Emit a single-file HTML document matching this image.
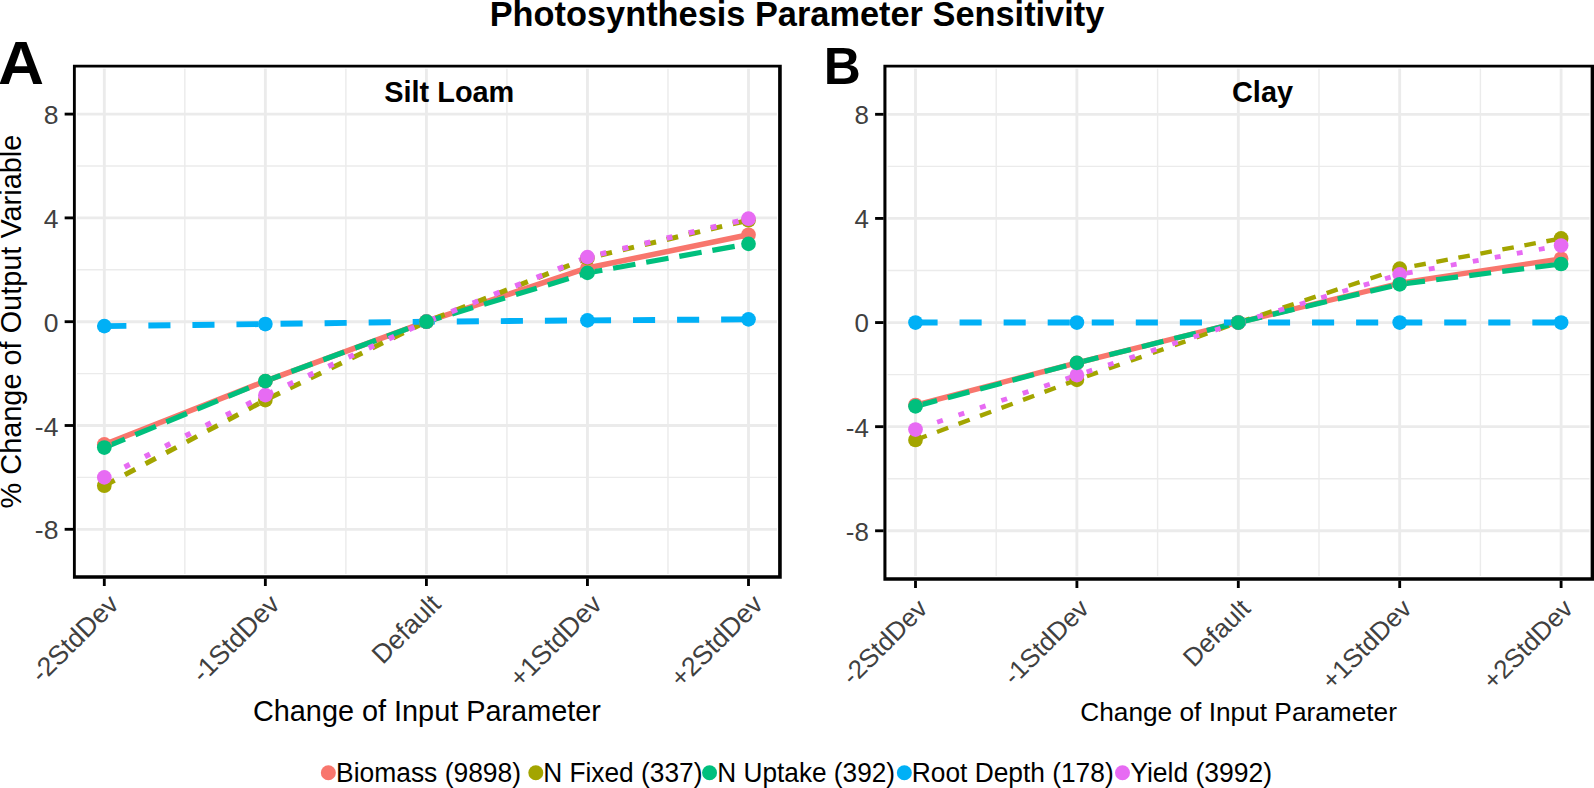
<!DOCTYPE html>
<html><head><meta charset="utf-8"><title>Photosynthesis Parameter Sensitivity</title>
<style>html,body{margin:0;padding:0;background:#fff;}svg{display:block;}text{font-family:"Liberation Sans", Arial, Helvetica, sans-serif;}</style></head><body>
<svg width="1594" height="788" viewBox="0 0 1594 788">
<rect x="0" y="0" width="1594" height="788" fill="#ffffff"/>
<g>
<rect x="74.50" y="66.00" width="705.50" height="511.00" fill="#fff"/>
<line x1="77.00" x2="776.93" y1="477.40" y2="477.40" stroke="#EBEBEB" stroke-width="1.4"/>
<line x1="77.00" x2="776.93" y1="373.60" y2="373.60" stroke="#EBEBEB" stroke-width="1.4"/>
<line x1="77.00" x2="776.93" y1="269.80" y2="269.80" stroke="#EBEBEB" stroke-width="1.4"/>
<line x1="77.00" x2="776.93" y1="166.00" y2="166.00" stroke="#EBEBEB" stroke-width="1.4"/>
<line x1="184.83" x2="184.83" y1="68.70" y2="574.00" stroke="#EBEBEB" stroke-width="1.4"/>
<line x1="345.88" x2="345.88" y1="68.70" y2="574.00" stroke="#EBEBEB" stroke-width="1.4"/>
<line x1="506.93" x2="506.93" y1="68.70" y2="574.00" stroke="#EBEBEB" stroke-width="1.4"/>
<line x1="667.98" x2="667.98" y1="68.70" y2="574.00" stroke="#EBEBEB" stroke-width="1.4"/>
<line x1="77.00" x2="776.93" y1="529.30" y2="529.30" stroke="#EBEBEB" stroke-width="2.85"/>
<line x1="77.00" x2="776.93" y1="425.50" y2="425.50" stroke="#EBEBEB" stroke-width="2.85"/>
<line x1="77.00" x2="776.93" y1="321.70" y2="321.70" stroke="#EBEBEB" stroke-width="2.85"/>
<line x1="77.00" x2="776.93" y1="217.90" y2="217.90" stroke="#EBEBEB" stroke-width="2.85"/>
<line x1="77.00" x2="776.93" y1="114.10" y2="114.10" stroke="#EBEBEB" stroke-width="2.85"/>
<line x1="104.30" x2="104.30" y1="68.70" y2="574.00" stroke="#EBEBEB" stroke-width="2.85"/>
<line x1="265.35" x2="265.35" y1="68.70" y2="574.00" stroke="#EBEBEB" stroke-width="2.85"/>
<line x1="426.40" x2="426.40" y1="68.70" y2="574.00" stroke="#EBEBEB" stroke-width="2.85"/>
<line x1="587.45" x2="587.45" y1="68.70" y2="574.00" stroke="#EBEBEB" stroke-width="2.85"/>
<line x1="748.50" x2="748.50" y1="68.70" y2="574.00" stroke="#EBEBEB" stroke-width="2.85"/>
<polyline points="104.30,444.44 265.35,381.13 426.40,321.70 587.45,267.98 748.50,234.77" fill="none" stroke="#F8766D" stroke-width="5.50" stroke-linejoin="round"/>
<g stroke="#A3A500" stroke-width="5.00" fill="none">
<line x1="104.30" y1="485.70" x2="265.35" y2="400.07" stroke-dasharray="11.67 11.67" stroke-dashoffset="0.00"/>
<line x1="265.35" y1="400.07" x2="426.40" y2="321.70" stroke-dasharray="11.68 11.23" stroke-dashoffset="18.41"/>
<line x1="426.40" y1="321.70" x2="587.45" y2="258.12" stroke-dasharray="11.40 10.97" stroke-dashoffset="14.19"/>
<line x1="587.45" y1="258.12" x2="748.50" y2="220.24" stroke-dasharray="11.71 10.93" stroke-dashoffset="9.17"/>
</g>
<g stroke="#00BF7D" stroke-width="5.20" fill="none">
<line x1="104.30" y1="447.56" x2="265.35" y2="381.13" stroke-dasharray="22.28 11.25" stroke-dashoffset="0.00"/>
<line x1="265.35" y1="381.13" x2="426.40" y2="321.70" stroke-dasharray="22.33 11.67" stroke-dashoffset="6.24"/>
<line x1="426.40" y1="321.70" x2="587.45" y2="272.91" stroke-dasharray="21.84 11.49" stroke-dashoffset="6.48"/>
<line x1="587.45" y1="272.91" x2="748.50" y2="243.85" stroke-dasharray="22.66 10.97" stroke-dashoffset="7.57"/>
</g>
<g stroke="#00B0F6" stroke-width="5.90" fill="none">
<line x1="104.30" y1="326.11" x2="265.35" y2="324.04" stroke-dasharray="22.10 21.96" stroke-dashoffset="0.00"/>
<line x1="265.35" y1="324.04" x2="426.40" y2="321.70" stroke-dasharray="22.10 21.96" stroke-dashoffset="28.87"/>
<line x1="426.40" y1="321.70" x2="587.45" y2="320.40" stroke-dasharray="22.10 21.96" stroke-dashoffset="13.68"/>
<line x1="587.45" y1="320.40" x2="748.50" y2="319.36" stroke-dasharray="22.10 21.96" stroke-dashoffset="42.55"/>
</g>
<g stroke="#E76BF3" stroke-width="5.30" fill="none">
<line x1="104.30" y1="477.40" x2="265.35" y2="395.14" stroke-dasharray="5.73 17.06" stroke-dashoffset="0.00"/>
<line x1="265.35" y1="395.14" x2="426.40" y2="321.70" stroke-dasharray="5.83 16.38" stroke-dashoffset="19.62"/>
<line x1="426.40" y1="321.70" x2="587.45" y2="257.08" stroke-dasharray="6.03 16.92" stroke-dashoffset="18.96"/>
<line x1="587.45" y1="257.08" x2="748.50" y2="218.68" stroke-dasharray="5.86 16.80" stroke-dashoffset="9.18"/>
</g>
<circle cx="104.30" cy="326.11" r="7.35" fill="#00B0F6"/>
<circle cx="265.35" cy="324.04" r="7.35" fill="#00B0F6"/>
<circle cx="426.40" cy="321.70" r="7.35" fill="#00B0F6"/>
<circle cx="587.45" cy="320.40" r="7.35" fill="#00B0F6"/>
<circle cx="748.50" cy="319.36" r="7.35" fill="#00B0F6"/>
<circle cx="104.30" cy="444.44" r="7.35" fill="#F8766D"/>
<circle cx="265.35" cy="381.13" r="7.35" fill="#F8766D"/>
<circle cx="426.40" cy="321.70" r="7.35" fill="#F8766D"/>
<circle cx="587.45" cy="267.98" r="7.35" fill="#F8766D"/>
<circle cx="748.50" cy="234.77" r="7.35" fill="#F8766D"/>
<circle cx="104.30" cy="485.70" r="7.35" fill="#A3A500"/>
<circle cx="265.35" cy="400.07" r="7.35" fill="#A3A500"/>
<circle cx="426.40" cy="321.70" r="7.35" fill="#A3A500"/>
<circle cx="587.45" cy="258.12" r="7.35" fill="#A3A500"/>
<circle cx="748.50" cy="220.24" r="7.35" fill="#A3A500"/>
<circle cx="104.30" cy="477.40" r="7.35" fill="#E76BF3"/>
<circle cx="265.35" cy="395.14" r="7.35" fill="#E76BF3"/>
<circle cx="426.40" cy="321.70" r="7.35" fill="#E76BF3"/>
<circle cx="587.45" cy="257.08" r="7.35" fill="#E76BF3"/>
<circle cx="748.50" cy="218.68" r="7.35" fill="#E76BF3"/>
<circle cx="104.30" cy="447.56" r="7.35" fill="#00BF7D"/>
<circle cx="265.35" cy="381.13" r="7.35" fill="#00BF7D"/>
<circle cx="426.40" cy="321.70" r="7.35" fill="#00BF7D"/>
<circle cx="587.45" cy="272.91" r="7.35" fill="#00BF7D"/>
<circle cx="748.50" cy="243.85" r="7.35" fill="#00BF7D"/>
<path d="M72.94 64.65H781.75V578.68H72.94ZM75.80 67.50H778.13V575.20H75.80Z" fill="#000" fill-rule="evenodd"/>
<line x1="64.64" x2="73.14" y1="529.30" y2="529.30" stroke="#000" stroke-width="2.85"/>
<text x="58.44" y="539.40" font-size="26.50" fill="#404040" text-anchor="end">-8</text>
<line x1="64.64" x2="73.14" y1="425.50" y2="425.50" stroke="#000" stroke-width="2.85"/>
<text x="58.44" y="435.60" font-size="26.50" fill="#404040" text-anchor="end">-4</text>
<line x1="64.64" x2="73.14" y1="321.70" y2="321.70" stroke="#000" stroke-width="2.85"/>
<text x="58.44" y="331.80" font-size="26.50" fill="#404040" text-anchor="end">0</text>
<line x1="64.64" x2="73.14" y1="217.90" y2="217.90" stroke="#000" stroke-width="2.85"/>
<text x="58.44" y="228.00" font-size="26.50" fill="#404040" text-anchor="end">4</text>
<line x1="64.64" x2="73.14" y1="114.10" y2="114.10" stroke="#000" stroke-width="2.85"/>
<text x="58.44" y="124.20" font-size="26.50" fill="#404040" text-anchor="end">8</text>
<line x1="104.30" x2="104.30" y1="578.48" y2="586.00" stroke="#000" stroke-width="2.85"/>
<text transform="translate(106.70,592.30) rotate(-45)" font-size="26.60" fill="#404040" text-anchor="end" x="0" y="19">-2StdDev</text>
<line x1="265.35" x2="265.35" y1="578.48" y2="586.00" stroke="#000" stroke-width="2.85"/>
<text transform="translate(267.75,592.30) rotate(-45)" font-size="26.60" fill="#404040" text-anchor="end" x="0" y="19">-1StdDev</text>
<line x1="426.40" x2="426.40" y1="578.48" y2="586.00" stroke="#000" stroke-width="2.85"/>
<text transform="translate(428.80,592.30) rotate(-45)" font-size="26.60" fill="#404040" text-anchor="end" x="0" y="19">Default</text>
<line x1="587.45" x2="587.45" y1="578.48" y2="586.00" stroke="#000" stroke-width="2.85"/>
<text transform="translate(589.85,592.30) rotate(-45)" font-size="26.60" fill="#404040" text-anchor="end" x="0" y="19">+1StdDev</text>
<line x1="748.50" x2="748.50" y1="578.48" y2="586.00" stroke="#000" stroke-width="2.85"/>
<text transform="translate(750.90,592.30) rotate(-45)" font-size="26.60" fill="#404040" text-anchor="end" x="0" y="19">+2StdDev</text>
<text x="449.30" y="101.60" font-size="28.9" font-weight="bold" fill="#000" text-anchor="middle">Silt Loam</text>
</g>
<g>
<rect x="885.00" y="66.00" width="707.30" height="512.50" fill="#fff"/>
<line x1="887.65" x2="1589.45" y1="478.73" y2="478.73" stroke="#EBEBEB" stroke-width="1.4"/>
<line x1="887.65" x2="1589.45" y1="374.61" y2="374.61" stroke="#EBEBEB" stroke-width="1.4"/>
<line x1="887.65" x2="1589.45" y1="270.49" y2="270.49" stroke="#EBEBEB" stroke-width="1.4"/>
<line x1="887.65" x2="1589.45" y1="166.37" y2="166.37" stroke="#EBEBEB" stroke-width="1.4"/>
<line x1="996.20" x2="996.20" y1="68.70" y2="576.10" stroke="#EBEBEB" stroke-width="1.4"/>
<line x1="1157.60" x2="1157.60" y1="68.70" y2="576.10" stroke="#EBEBEB" stroke-width="1.4"/>
<line x1="1319.00" x2="1319.00" y1="68.70" y2="576.10" stroke="#EBEBEB" stroke-width="1.4"/>
<line x1="1480.40" x2="1480.40" y1="68.70" y2="576.10" stroke="#EBEBEB" stroke-width="1.4"/>
<line x1="887.65" x2="1589.45" y1="530.79" y2="530.79" stroke="#EBEBEB" stroke-width="2.85"/>
<line x1="887.65" x2="1589.45" y1="426.67" y2="426.67" stroke="#EBEBEB" stroke-width="2.85"/>
<line x1="887.65" x2="1589.45" y1="322.55" y2="322.55" stroke="#EBEBEB" stroke-width="2.85"/>
<line x1="887.65" x2="1589.45" y1="218.43" y2="218.43" stroke="#EBEBEB" stroke-width="2.85"/>
<line x1="887.65" x2="1589.45" y1="114.31" y2="114.31" stroke="#EBEBEB" stroke-width="2.85"/>
<line x1="915.50" x2="915.50" y1="68.70" y2="576.10" stroke="#EBEBEB" stroke-width="2.85"/>
<line x1="1076.90" x2="1076.90" y1="68.70" y2="576.10" stroke="#EBEBEB" stroke-width="2.85"/>
<line x1="1238.30" x2="1238.30" y1="68.70" y2="576.10" stroke="#EBEBEB" stroke-width="2.85"/>
<line x1="1399.70" x2="1399.70" y1="68.70" y2="576.10" stroke="#EBEBEB" stroke-width="2.85"/>
<line x1="1561.10" x2="1561.10" y1="68.70" y2="576.10" stroke="#EBEBEB" stroke-width="2.85"/>
<polyline points="915.50,405.07 1076.90,362.90 1238.30,322.55 1399.70,283.24 1561.10,258.78" fill="none" stroke="#F8766D" stroke-width="5.30" stroke-linejoin="round"/>
<g stroke="#A3A500" stroke-width="4.40" fill="none">
<line x1="915.50" y1="439.95" x2="1076.90" y2="379.82" stroke-dasharray="11.95 10.99" stroke-dashoffset="0.00"/>
<line x1="1076.90" y1="379.82" x2="1238.30" y2="322.55" stroke-dasharray="11.57 11.67" stroke-dashoffset="12.63"/>
<line x1="1238.30" y1="322.55" x2="1399.70" y2="268.67" stroke-dasharray="11.60 11.54" stroke-dashoffset="22.56"/>
<line x1="1399.70" y1="268.67" x2="1561.10" y2="238.47" stroke-dasharray="11.60 10.78" stroke-dashoffset="7.43"/>
</g>
<g stroke="#00BF7D" stroke-width="5.20" fill="none">
<line x1="915.50" y1="406.37" x2="1076.90" y2="362.90" stroke-dasharray="22.27 11.18" stroke-dashoffset="0.00"/>
<line x1="1076.90" y1="362.90" x2="1238.30" y2="322.55" stroke-dasharray="22.26 11.24" stroke-dashoffset="0.10"/>
<line x1="1238.30" y1="322.55" x2="1399.70" y2="284.29" stroke-dasharray="22.20 11.20" stroke-dashoffset="31.45"/>
<line x1="1399.70" y1="284.29" x2="1561.10" y2="263.98" stroke-dasharray="22.07 11.24" stroke-dashoffset="29.93"/>
</g>
<g stroke="#00B0F6" stroke-width="5.90" fill="none">
<line x1="915.50" y1="322.55" x2="1076.90" y2="322.55" stroke-dasharray="22.10 21.96" stroke-dashoffset="0.00"/>
<line x1="1076.90" y1="322.55" x2="1238.30" y2="322.55" stroke-dasharray="22.10 21.96" stroke-dashoffset="29.22"/>
<line x1="1238.30" y1="322.55" x2="1399.70" y2="322.55" stroke-dasharray="22.10 21.96" stroke-dashoffset="14.38"/>
<line x1="1399.70" y1="322.55" x2="1561.10" y2="322.55" stroke-dasharray="22.10 21.96" stroke-dashoffset="43.60"/>
</g>
<g stroke="#E76BF3" stroke-width="4.80" fill="none">
<line x1="915.50" y1="429.53" x2="1076.90" y2="375.13" stroke-dasharray="6.02 16.57" stroke-dashoffset="22.37"/>
<line x1="1076.90" y1="375.13" x2="1238.30" y2="322.55" stroke-dasharray="5.78 16.72" stroke-dashoffset="12.20"/>
<line x1="1238.30" y1="322.55" x2="1399.70" y2="274.39" stroke-dasharray="5.84 16.38" stroke-dashoffset="2.40"/>
<line x1="1399.70" y1="274.39" x2="1561.10" y2="245.50" stroke-dasharray="5.89 16.46" stroke-dashoffset="15.14"/>
</g>
<circle cx="915.50" cy="322.55" r="7.35" fill="#00B0F6"/>
<circle cx="1076.90" cy="322.55" r="7.35" fill="#00B0F6"/>
<circle cx="1238.30" cy="322.55" r="7.35" fill="#00B0F6"/>
<circle cx="1399.70" cy="322.55" r="7.35" fill="#00B0F6"/>
<circle cx="1561.10" cy="322.55" r="7.35" fill="#00B0F6"/>
<circle cx="915.50" cy="405.07" r="7.35" fill="#F8766D"/>
<circle cx="1076.90" cy="362.90" r="7.35" fill="#F8766D"/>
<circle cx="1238.30" cy="322.55" r="7.35" fill="#F8766D"/>
<circle cx="1399.70" cy="283.24" r="7.35" fill="#F8766D"/>
<circle cx="1561.10" cy="258.78" r="7.35" fill="#F8766D"/>
<circle cx="915.50" cy="439.95" r="7.35" fill="#A3A500"/>
<circle cx="1076.90" cy="379.82" r="7.35" fill="#A3A500"/>
<circle cx="1238.30" cy="322.55" r="7.35" fill="#A3A500"/>
<circle cx="1399.70" cy="268.67" r="7.35" fill="#A3A500"/>
<circle cx="1561.10" cy="238.47" r="7.35" fill="#A3A500"/>
<circle cx="915.50" cy="429.53" r="7.35" fill="#E76BF3"/>
<circle cx="1076.90" cy="375.13" r="7.35" fill="#E76BF3"/>
<circle cx="1238.30" cy="322.55" r="7.35" fill="#E76BF3"/>
<circle cx="1399.70" cy="274.39" r="7.35" fill="#E76BF3"/>
<circle cx="1561.10" cy="245.50" r="7.35" fill="#E76BF3"/>
<circle cx="915.50" cy="406.37" r="7.35" fill="#00BF7D"/>
<circle cx="1076.90" cy="362.90" r="7.35" fill="#00BF7D"/>
<circle cx="1238.30" cy="322.55" r="7.35" fill="#00BF7D"/>
<circle cx="1399.70" cy="284.29" r="7.35" fill="#00BF7D"/>
<circle cx="1561.10" cy="263.98" r="7.35" fill="#00BF7D"/>
<path d="M883.40 64.65H1594.50V580.86H883.40ZM886.45 67.50H1590.65V577.30H886.45Z" fill="#000" fill-rule="evenodd"/>
<line x1="875.10" x2="883.60" y1="530.79" y2="530.79" stroke="#000" stroke-width="2.85"/>
<text x="868.90" y="540.66" font-size="25.90" fill="#404040" text-anchor="end">-8</text>
<line x1="875.10" x2="883.60" y1="426.67" y2="426.67" stroke="#000" stroke-width="2.85"/>
<text x="868.90" y="436.54" font-size="25.90" fill="#404040" text-anchor="end">-4</text>
<line x1="875.10" x2="883.60" y1="322.55" y2="322.55" stroke="#000" stroke-width="2.85"/>
<text x="868.90" y="332.42" font-size="25.90" fill="#404040" text-anchor="end">0</text>
<line x1="875.10" x2="883.60" y1="218.43" y2="218.43" stroke="#000" stroke-width="2.85"/>
<text x="868.90" y="228.30" font-size="25.90" fill="#404040" text-anchor="end">4</text>
<line x1="875.10" x2="883.60" y1="114.31" y2="114.31" stroke="#000" stroke-width="2.85"/>
<text x="868.90" y="124.18" font-size="25.90" fill="#404040" text-anchor="end">8</text>
<line x1="915.50" x2="915.50" y1="580.66" y2="588.00" stroke="#000" stroke-width="2.85"/>
<text transform="translate(915.50,596.70) rotate(-45)" font-size="25.90" fill="#404040" text-anchor="end" x="0" y="19">-2StdDev</text>
<line x1="1076.90" x2="1076.90" y1="580.66" y2="588.00" stroke="#000" stroke-width="2.85"/>
<text transform="translate(1076.90,596.70) rotate(-45)" font-size="25.90" fill="#404040" text-anchor="end" x="0" y="19">-1StdDev</text>
<line x1="1238.30" x2="1238.30" y1="580.66" y2="588.00" stroke="#000" stroke-width="2.85"/>
<text transform="translate(1238.30,596.70) rotate(-45)" font-size="25.90" fill="#404040" text-anchor="end" x="0" y="19">Default</text>
<line x1="1399.70" x2="1399.70" y1="580.66" y2="588.00" stroke="#000" stroke-width="2.85"/>
<text transform="translate(1399.70,596.70) rotate(-45)" font-size="25.90" fill="#404040" text-anchor="end" x="0" y="19">+1StdDev</text>
<line x1="1561.10" x2="1561.10" y1="580.66" y2="588.00" stroke="#000" stroke-width="2.85"/>
<text transform="translate(1561.10,596.70) rotate(-45)" font-size="25.90" fill="#404040" text-anchor="end" x="0" y="19">+2StdDev</text>
<text x="1262.50" y="101.90" font-size="28.9" font-weight="bold" fill="#000" text-anchor="middle">Clay</text>
</g>
<text transform="translate(-2.1,84) scale(1.07,1.015)" font-size="59.6" font-weight="bold" fill="#000">A</text>
<text x="823.8" y="84" font-size="51.3" font-weight="bold" fill="#000">B</text>
<text transform="translate(797.0,25.7) scale(1,1.045)" font-size="34.35" font-weight="bold" fill="#000" text-anchor="middle">Photosynthesis Parameter Sensitivity</text>
<text transform="translate(21.4,321.6) rotate(-90) scale(1,0.99)" font-size="28.9" fill="#000" text-anchor="middle">% Change of Output Variable</text>
<text x="426.9" y="720.8" font-size="28.85" fill="#000" text-anchor="middle">Change of Input Parameter</text>
<text x="1238.6" y="720.9" font-size="26.25" fill="#000" text-anchor="middle">Change of Input Parameter</text>
<circle cx="328.35" cy="772.7" r="7.5" fill="#F8766D"/>
<text transform="translate(336.03,782.3) scale(1,1.03)" font-size="26.43" fill="#000">Biomass (9898)</text>
<circle cx="535.80" cy="772.7" r="7.5" fill="#A3A500"/>
<text transform="translate(543.14,782.3) scale(1,1.03)" font-size="26.31" fill="#000">N Fixed (337)</text>
<circle cx="709.55" cy="772.7" r="7.5" fill="#00BF7D"/>
<text transform="translate(717.30,782.3) scale(1,1.03)" font-size="26.22" fill="#000">N Uptake (392)</text>
<circle cx="904.35" cy="772.7" r="7.5" fill="#00B0F6"/>
<text transform="translate(911.74,782.3) scale(1,1.03)" font-size="26.33" fill="#000">Root Depth (178)</text>
<circle cx="1122.50" cy="772.7" r="7.5" fill="#E76BF3"/>
<text transform="translate(1130.22,782.3) scale(1,1.03)" font-size="26.50" fill="#000">Yield (3992)</text>
</svg></body></html>
